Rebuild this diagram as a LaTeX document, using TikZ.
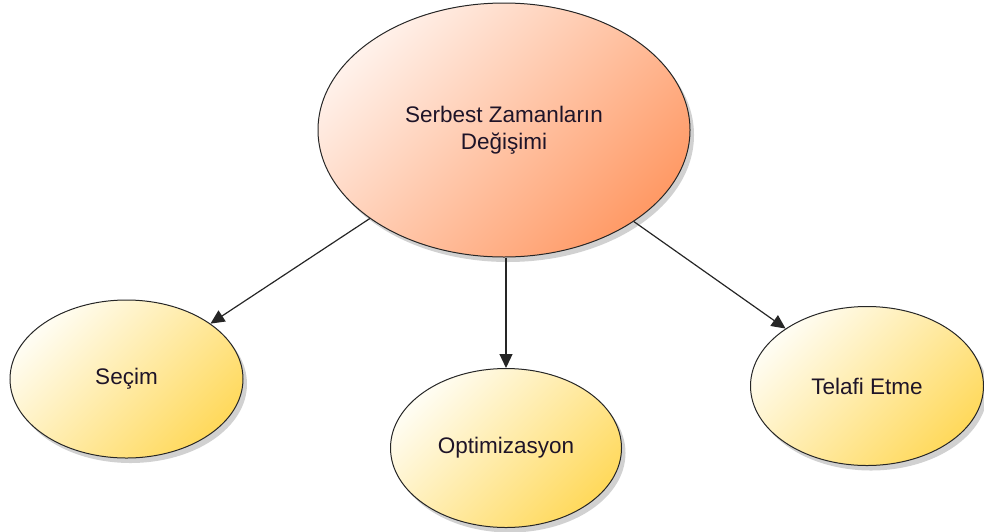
\documentclass[tikz,border=0pt]{standalone}
\usepackage{fontspec}
\setmainfont{Liberation Sans}
\usetikzlibrary{shapes.geometric,arrows.meta,shadows}
\definecolor{orlight}{HTML}{FFF1EA}
\definecolor{ordark}{HTML}{FF9A66}
\definecolor{yelight}{HTML}{FFFDF3}
\definecolor{yedark}{HTML}{FFD95C}
\definecolor{txt}{HTML}{1E1428}
\tikzset{
  bubble/.style={ellipse, draw=black!85, line width=1pt, inner sep=0pt,
    font=\fontsize{22.5}{27}\selectfont, text=txt, align=center,
    drop shadow={shadow xshift=4pt, shadow yshift=-5pt, opacity=0.18, fill=black}},
  mainbub/.style={bubble, top color=orlight, bottom color=ordark, shading angle=45},
  subbub/.style={bubble, top color=yelight, bottom color=yedark, shading angle=45},
  conn/.style={line width=1.2pt, draw=black!85, -{Triangle[length=14pt,width=13pt]}}
}
\begin{document}
\begin{tikzpicture}[x=1pt,y=-1pt]
\useasboundingbox (0,0) rectangle (984,531);
\node[mainbub, minimum width=372pt, minimum height=254pt] (top) at (504,130) {Serbest Zamanların\\Değişimi};
\node[subbub, minimum width=233pt, minimum height=158pt] (secim) at (126.5,379) {Seçim};
\node[subbub, minimum width=231pt, minimum height=159pt] (opt) at (506,448) {Optimizasyon};
\node[subbub, minimum width=233pt, minimum height=159pt] (tel) at (867,386) {Telafi Etme};
\draw[conn] (top) -- (secim);
\draw[conn] (top.south -| opt.north) -- (opt.north);
\draw[conn] (top) -- (tel);
\end{tikzpicture}
\end{document}
